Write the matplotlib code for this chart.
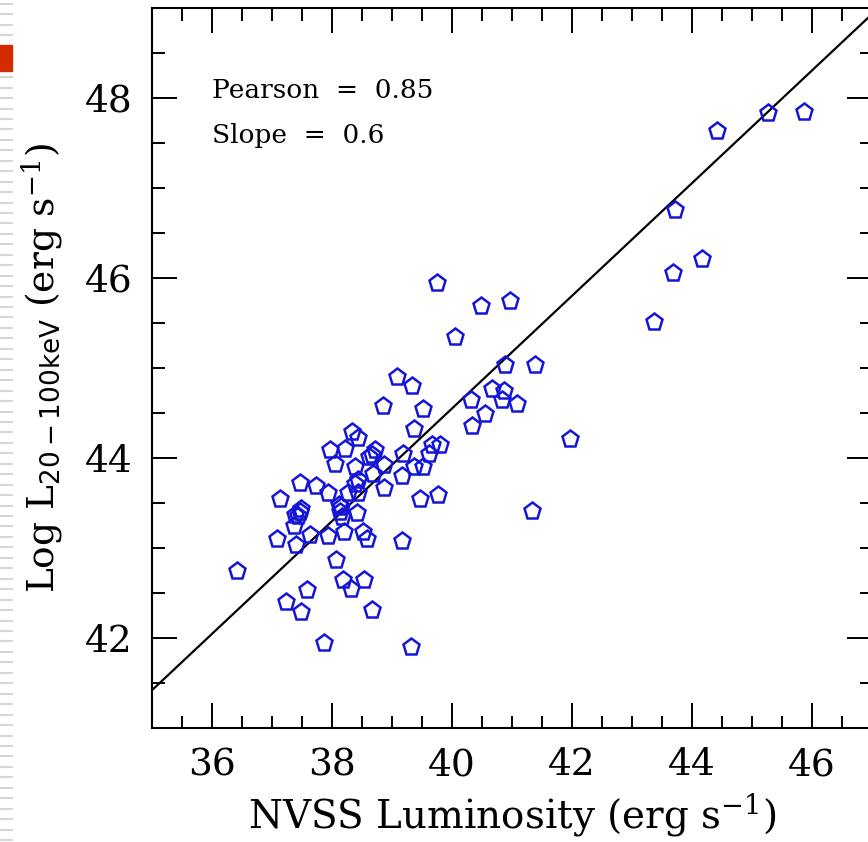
import matplotlib
matplotlib.use("Agg")
import matplotlib.pyplot as plt
from matplotlib.lines import Line2D
from matplotlib.patches import Rectangle
from matplotlib.ticker import MultipleLocator

# -----------------------------
# Data
# -----------------------------
nvss_lum = [
    45.26, 45.87, 44.41, 43.72, 44.16, 43.69, 43.36,
    39.75, 40.48, 40.97, 40.05, 40.88, 41.39, 40.66, 40.86, 40.84, 41.08,
    40.31, 40.55, 40.34, 41.97, 41.33, 39.80, 39.77,
    39.08, 39.34, 38.85, 39.51, 39.37, 38.33, 38.44, 37.97, 38.22, 38.05,
    38.72, 38.61, 38.67, 38.86, 38.38, 38.69, 39.19, 39.16, 39.36, 39.52,
    39.61, 39.66, 37.46, 37.73, 37.94, 38.38, 38.44, 38.86, 38.26, 37.13,
    39.47, 37.47, 37.44, 37.49, 38.11, 38.13, 38.41, 38.16, 38.15, 38.44,
    36.41, 37.23, 37.49, 37.59, 37.87, 38.07, 38.18, 38.31, 38.53, 38.66,
    39.31, 39.16, 37.09, 37.40, 37.63, 37.94, 38.20, 38.52, 38.58, 37.37,
    37.38,
]
hard_xray_lum = [
    47.83, 47.85, 47.63, 46.76, 46.21, 46.06, 45.51,
    45.95, 45.69, 45.75, 45.35, 45.03, 45.03, 44.77, 44.75, 44.64, 44.60,
    44.64, 44.49, 44.36, 44.21, 43.41, 44.14, 43.59,
    44.90, 44.80, 44.58, 44.54, 44.32, 44.29, 44.22, 44.09, 44.10, 43.93,
    44.09, 44.01, 44.03, 43.92, 43.90, 43.82, 44.04, 43.80, 43.90, 43.90,
    44.05, 44.14, 43.72, 43.69, 43.61, 43.71, 43.61, 43.67, 43.61, 43.54,
    43.54, 43.40, 43.36, 43.43, 43.48, 43.40, 43.39, 43.35, 43.45, 43.76,
    42.74, 42.40, 42.29, 42.53, 41.94, 42.87, 42.65, 42.55, 42.64, 42.31,
    41.90, 43.08, 43.10, 43.03, 43.14, 43.13, 43.18, 43.18, 43.10, 43.24,
    43.37,
]

# fitted relation
fit_slope = 0.626
fit_y_at_35 = 41.42
fit_x = [35.0, 47.0]
fit_y = [fit_y_at_35 + fit_slope * (x - 35.0) for x in fit_x]

pearson = 0.85
slope_label = 0.6

# -----------------------------
# Style
# -----------------------------
plt.rcParams.update({
    "font.family": "DejaVu Serif",
    "mathtext.fontset": "dejavuserif",
})

fig = plt.figure(figsize=(8.68, 8.42), dpi=100)
ax = fig.add_axes([152 / 868, 1 - 728 / 842, 720 / 868, 720 / 842])

ax.plot(fit_x, fit_y, color="black", linewidth=1.6, zorder=2)
ax.plot(nvss_lum, hard_xray_lum, linestyle="none", marker="p",
        markersize=12.5, markerfacecolor="none", markeredgecolor="#1515d8",
        markeredgewidth=1.8, zorder=3)

ax.set_xlim(35, 47)
ax.set_ylim(41, 49)
ax.xaxis.set_major_locator(MultipleLocator(2))
ax.xaxis.set_minor_locator(MultipleLocator(0.5))
ax.yaxis.set_major_locator(MultipleLocator(2))
ax.yaxis.set_minor_locator(MultipleLocator(0.5))

ax.tick_params(which="both", direction="in", top=True, right=True,
               width=1.4, labelsize=27, pad=14)
ax.tick_params(which="major", length=18)
ax.tick_params(which="minor", length=9)
for sp in ax.spines.values():
    sp.set_linewidth(1.5)

ax.set_xlabel(r"NVSS Luminosity (erg s$^{-1}$)", fontsize=28, labelpad=6)
ax.set_ylabel(r"Log L$_{\mathsf{20-100keV}}$ (erg s$^{-1}$)", fontsize=27,
              labelpad=14)

ax.text(36.0, 48.0, f"Pearson  =  {pearson}", fontsize=19)
ax.text(36.0, 47.5, f"Slope  =  {slope_label}", fontsize=19)

# -----------------------------
# Slide decoration on the left edge
# -----------------------------
y = 4
while y < 842:
    fig.add_artist(Line2D([0, 12 / 868], [1 - y / 842, 1 - y / 842],
                          color="#d6d6d6", linewidth=1.5,
                          transform=fig.transFigure))
    y += 10.45
fig.add_artist(Rectangle((0, 1 - 71 / 842), 12 / 868, 26 / 842,
                         color="#d42a00", transform=fig.transFigure, zorder=5))

plt.savefig("out.png", dpi=100)
